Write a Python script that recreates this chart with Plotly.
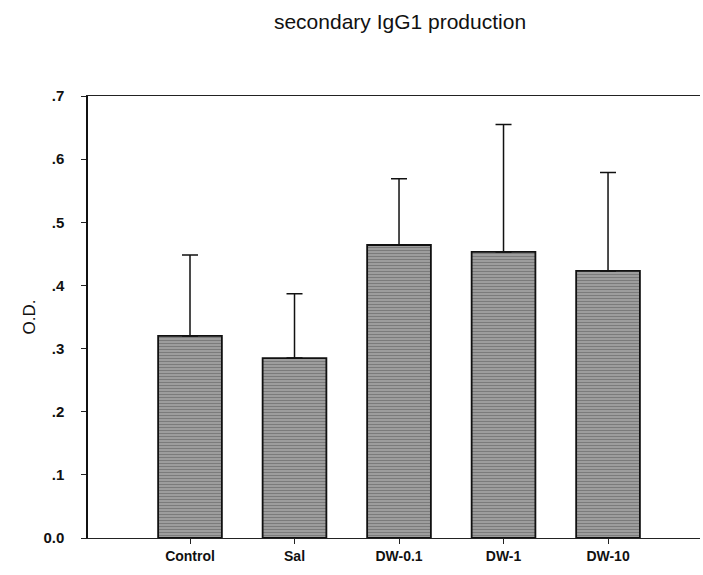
import plotly.graph_objects as go

categories = ["Control", "Sal", "DW-0.1", "DW-1", "DW-10"]
means = [0.320, 0.285, 0.464, 0.453, 0.423]
errors = [0.128, 0.102, 0.105, 0.202, 0.156]
ytick_vals = [0.0, 0.1, 0.2, 0.3, 0.4, 0.5, 0.6, 0.7]
ytick_text = ["0.0", ".1", ".2", ".3", ".4", ".5", ".6", ".7"]

fig = go.Figure()
fig.add_trace(go.Bar(
    x=categories, y=means, width=0.61,
    marker=dict(color="#949494", line=dict(color="#111", width=1.8),
                pattern=dict(shape="-", fgcolor="#555555", bgcolor="#a0a0a0", size=3, solidity=0.4)),
    error_y=dict(type="data", symmetric=False, array=errors, arrayminus=[0]*len(errors),
                 color="#111", thickness=1.5, width=8),
))

fig.update_layout(
    width=703, height=575,
    margin=dict(l=88, r=3, t=96, b=37),
    paper_bgcolor="white", plot_bgcolor="white",
    showlegend=False,
    font=dict(family="Liberation Sans, Arial, sans-serif", color="#111"),
    title=dict(text="secondary IgG1 production", x=0.569, xanchor="center",
               y=0.962, yanchor="middle", yref="container",
               font=dict(size=21, color="#111")),
    xaxis=dict(range=[-0.976, 4.88], showline=True, linecolor="#222", linewidth=1,
               mirror=True, ticks="outside", ticklen=5, tickcolor="#222",
               tickfont=dict(size=14, weight="bold", family="Liberation Sans, Arial, sans-serif"),
               showgrid=False),
    yaxis=dict(range=[0, 0.7], tickvals=ytick_vals, ticktext=ytick_text,
               showline=True, linecolor="#111", linewidth=1.5, ticks="outside",
               ticklen=5, tickcolor="#222", showgrid=False, zeroline=False,
               ticklabelstandoff=14,
               tickfont=dict(size=15, weight="bold"),
               title=dict(text="O.D.", font=dict(size=17), standoff=3)),
)

fig.write_html("out.html")
